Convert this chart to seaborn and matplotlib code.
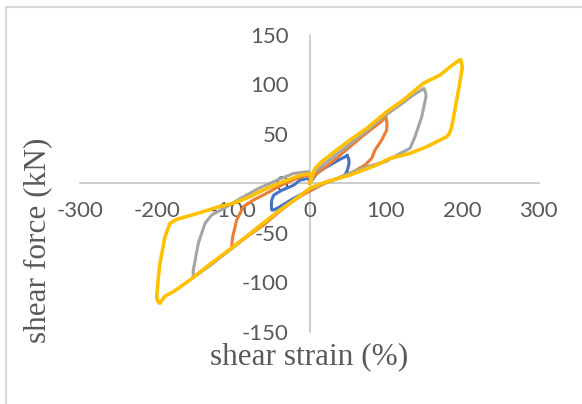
import pandas as pd
import numpy as np
import matplotlib
matplotlib.use("Agg")
import matplotlib.pyplot as plt
import seaborn as sns
from matplotlib.patches import Rectangle

# ==================================================
# DATA (read off the reference hysteresis loops)
# ==================================================
blue_x = [0, 5, 9.4, 20, 26.9, 40, 47, 49.5, 51.5, 51.8, 49.5, 46.5, 38, 26.9, 12, 0.7,
          -21, -38.6, -47, -49.5, -50, -49.5, -47, -43, -35, -21, -12.4, -1.6, 0]
blue_y = [0, 5, 10, 15.5, 18.5, 24.3, 27, 28.6, 24, 20.2, 13, 8.4, 5, 2.6, -2, -6.8,
          -15.2, -23.6, -27, -27, -22, -17, -12, -10, -6.5, -2, 3.3, 5, 3]

orange_x = [0, 5, 15, 30, 50, 70, 85, 95, 100.2, 101.5, 101.1, 94.6, 85.8, 81.5, 72.7, 57.4,
            40, 20, 5, -5, -20, -38.6, -60, -80, -95, -102, -101.5, -100.6, -95.4, -86.7,
            -73.6, -56, -40, -20, -5, 0]
orange_y = [0, 7, 13, 22, 35, 48, 57, 63, 67.3, 60, 53.9, 43.8, 33.7, 25.3, 18.5, 11.7,
            6, 0, -6, -10, -17, -28, -42, -53, -61, -65.7, -60, -54, -37.1, -23.7,
            -16.9, -10, -3, 4, 8, 6]

gray_x = [0, 5, 20, 50, 75, 96.7, 118.6, 136, 147, 150, 152.6, 152.6, 147, 138.2, 131.7, 118.6,
          100, 75, 53, 30, 10, 0, -20, -40, -70, -100, -130, -148, -152.2, -152.5, -152.2,
          -145.7, -136.9, -128.1, -108.5, -90, -64.8, -40, -21.2, -1.6, 0]
gray_y = [0, 10, 20, 38, 53, 67.3, 79.2, 89.3, 94.5, 96, 90, 87.6, 67.3, 47.1, 35.4, 30.3,
          22, 16.8, 10, 3, -3, -6, -16, -28, -46, -65, -83, -93, -94.4, -90, -87.7,
          -60.7, -40.4, -32, -23.7, -15, -4.4, 4, 10, 11.8, 8]

yellow_x = [0.7, 7.2, 16, 35.6, 53, 75, 101.1, 122.9, 149.1, 171, 181.8, 194.9, 198, 200.2,
            196.5, 192.8, 186.3, 183, 179.7, 153.5, 131.7, 105.5, 88, 53, 22.5, 5, 0.7,
            -16.8, -38.6, -69.2, -99.8, -134.7, -156.6, -178.4, -189.3, -194, -196, -199,
            -200.2, -198, -195.9, -189.3, -182.8, -174, -143.5, -121.6, -99.8, -78, -56,
            -34.3, -12.4, 2.9, 0.7]
yellow_y = [0, 15.2, 21.9, 33.7, 43.8, 55.6, 72.4, 84.2, 101.1, 109.5, 116.3, 124, 125, 117.9,
            100, 84.2, 57.2, 50, 47.1, 37, 30.3, 25.3, 18.5, 8.4, 1.6, -3.4, -5,
            -15.2, -27, -45.5, -64.1, -84.3, -97.8, -109.6, -114, -119, -121.3, -119,
            -114.7, -95, -80.9, -54, -40.4, -36.4, -29.7, -24.3, -20.2, -13.5, -5,
            1.6, 8, 10, 0]

series = ["50%", "100%", "150%", "200%"]
colors = ["#4472C4", "#ED7D31", "#A5A5A5", "#FFC000"]

x_ticks = [-300, -200, -100, 0, 100, 200, 300]
y_ticks = [-150, -100, -50, 0, 50, 100, 150]

frames = []
for name, xs, ys in zip(series, [blue_x, orange_x, gray_x, yellow_x],
                        [blue_y, orange_y, gray_y, yellow_y]):
    frames.append(pd.DataFrame({"strain": xs, "force": ys, "loop": name,
                                "order": np.arange(len(xs))}))
df = pd.concat(frames, ignore_index=True)

# ==================================================
# PLOT
# ==================================================
sns.set_style("white")
plt.rcParams["font.family"] = ["Lato", "DejaVu Sans"]

fig = plt.figure(figsize=(5.82, 4.04), dpi=100)
ax = fig.add_axes([0.1383, 0.179, 0.787, 0.7344])

for name, col in zip(series, colors):
    sub = df[df["loop"] == name]
    lw = 2.6 if name == "200%" else 2.2
    sns.lineplot(data=sub, x="strain", y="force", sort=False, estimator=None,
                 color=col, linewidth=lw, ax=ax, legend=False,
                 solid_joinstyle="round", solid_capstyle="round")

ax.set_xlim(-300, 300)
ax.set_ylim(-150, 150)
ax.set_xticks(x_ticks)
ax.set_yticks(y_ticks)
ax.set_xticklabels([str(v) for v in x_ticks])
ax.set_yticklabels([str(v) for v in y_ticks])

for side in ["top", "right"]:
    ax.spines[side].set_visible(False)
for side in ["left", "bottom"]:
    ax.spines[side].set_position("zero")
    ax.spines[side].set_color("#BFBFBF")
    ax.spines[side].set_linewidth(1.1)
    ax.spines[side].set_zorder(0)

ax.tick_params(axis="x", length=0, pad=13, labelsize=16, labelcolor="#595959")
ax.tick_params(axis="y", length=0, pad=15, labelsize=16, labelcolor="#595959")
ax.set_xlabel("")
ax.set_ylabel("")
ax.patch.set_alpha(0)

fig.text(0.531, 0.116, "shear strain (%)", ha="center", va="center",
         family="Liberation Serif", fontsize=22.5, color="#595959")
fig.text(0.065, 0.406, "shear force (kN)", ha="center", va="center", rotation=90,
         family="Liberation Serif", fontsize=22.5, color="#595959")

# chart area border
fig.patches.append(Rectangle((6 / 582, -0.05), 1.2, 1 - 7 / 404 + 0.05,
                             transform=fig.transFigure, fill=False,
                             edgecolor="#D9D9D9", linewidth=1.5))

fig.savefig("out.png", dpi=100)
